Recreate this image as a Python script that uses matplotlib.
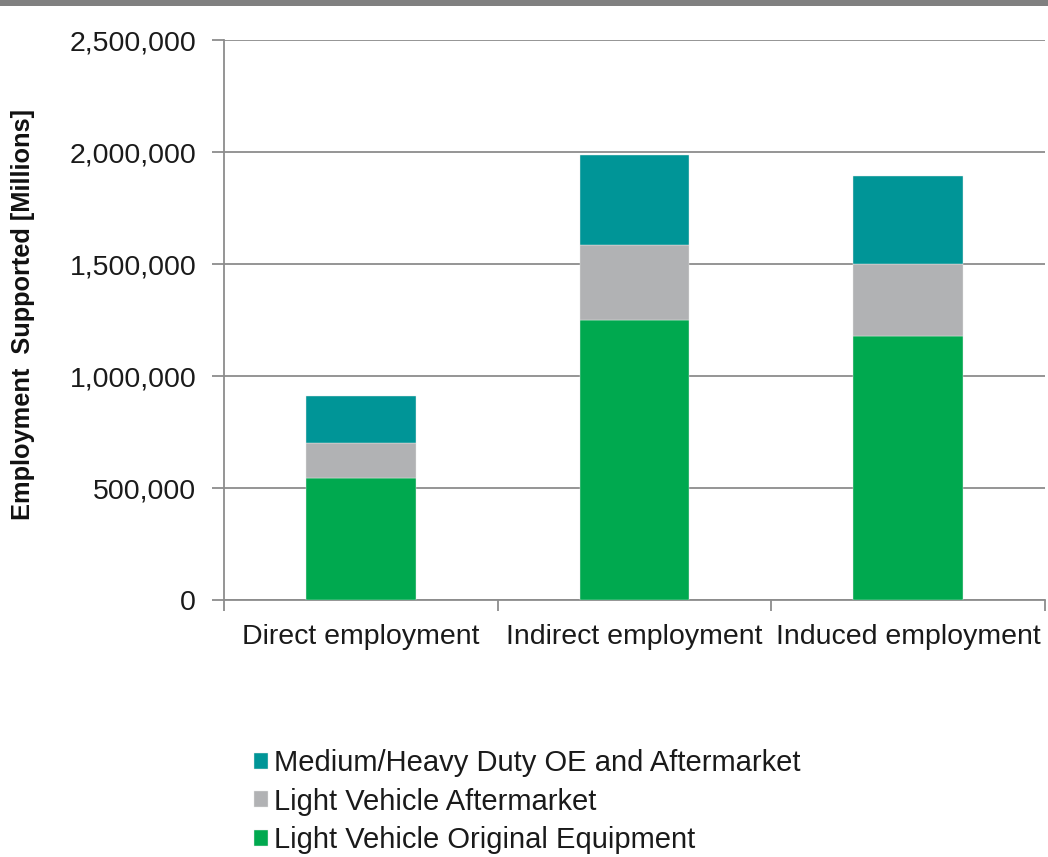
import numpy as np
import matplotlib.pyplot as plt
from matplotlib.patches import Rectangle
from matplotlib.ticker import FuncFormatter

plt.rcParams['font.family'] = ['Liberation Sans', 'DejaVu Sans']

categories = ['Direct employment', 'Indirect employment', 'Induced employment']
lv_oe = [546000, 1248000, 1178000]
lv_after = [157000, 338000, 324000]
mhd = [206000, 401000, 391000]
series_names = ['Light Vehicle Original Equipment', 'Light Vehicle Aftermarket',
                'Medium/Heavy Duty OE and Aftermarket']
colors = ['#00A94F', '#B1B2B4', '#009597']

fig = plt.figure(figsize=(10.48, 8.57), dpi=100)
ax = fig.add_axes([224 / 1048, 1 - 600 / 857, (1045 - 224) / 1048, 560 / 857])

# gray strip on top
fig.patches.append(Rectangle((0, 1 - 6 / 857), 1, 6 / 857, transform=fig.transFigure,
                             facecolor='#808080', edgecolor='none'))

x = np.arange(len(categories))
bottom = np.zeros(len(categories))
handles = []
for vals, name, c in zip([lv_oe, lv_after, mhd], series_names, colors):
    b = ax.bar(x, vals, width=0.4, bottom=bottom, color=c, label=name,
               edgecolor='#e8e8e8', linewidth=0.3, zorder=3)
    handles.append(b)
    bottom += np.array(vals)

ax.set_xlim(-0.5, 2.5)
ax.set_ylim(0, 2500000)
ax.set_yticks(np.arange(0, 2500001, 500000))
ax.yaxis.set_major_formatter(FuncFormatter(lambda v, p: f'{int(v):,}'))
ax.grid(axis='y', color='#8C8C8C', linewidth=1.3, zorder=0)
ax.set_axisbelow(True)

ax.set_xticks(x)
ax.set_xticklabels(categories)
ax.set_xticks([-0.5, 0.5, 1.5, 2.5], minor=True)
ax.tick_params(axis='x', which='major', length=0, pad=17, labelsize=20.5, labelcolor='#1a1a1a')
ax.tick_params(axis='x', which='minor', length=8, width=1.3, color='#8C8C8C', direction='out')
ax.tick_params(axis='y', length=9, width=1.3, color='#8C8C8C', pad=11, labelsize=20.5,
               labelcolor='#1a1a1a')

for s in ['top', 'right']:
    ax.spines[s].set_visible(False)
for s in ['left', 'bottom']:
    ax.spines[s].set_color('#8C8C8C')
    ax.spines[s].set_linewidth(1.3)

fig.text(23 / 1048, 1 - 314 / 857, 'Employment  Supported [Millions]', rotation=90,
         ha='center', va='center', fontsize=18.3, fontweight='bold', color='#111111')

fig.legend(handles=handles[::-1], labels=series_names[::-1], loc='upper left',
           bbox_to_anchor=(254 / 1048, 1 - 749 / 857), frameon=False, fontsize=21,
           handlelength=0.48, handleheight=0.48, handletextpad=0.2, labelspacing=0.36,
           borderpad=0, borderaxespad=0, labelcolor='#1a1a1a')

fig.savefig('out.png', dpi=100)
